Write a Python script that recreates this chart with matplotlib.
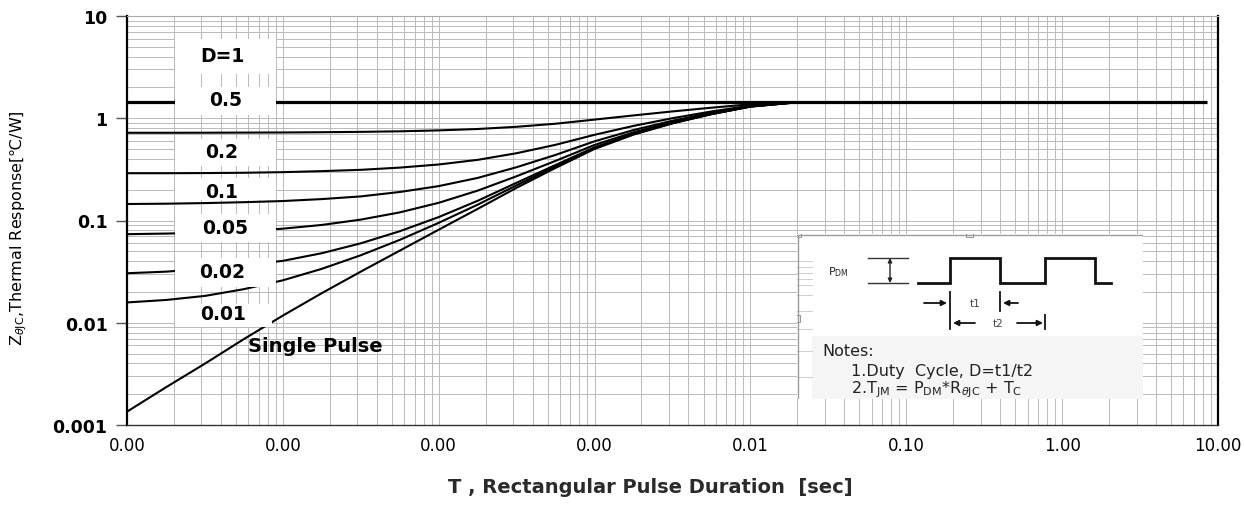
import matplotlib
matplotlib.use("Agg")
import matplotlib.pyplot as plt
from matplotlib.ticker import LogLocator, FixedLocator, FixedFormatter, NullFormatter
from matplotlib.patches import Rectangle

# pulse duration [s] at which the curves were read
t_sec = [1e-6, 1.78e-6, 3.16e-6, 5.62e-6, 1e-5, 1.78e-5, 3.16e-5, 5.62e-5,
         1e-4, 1.78e-4, 3.16e-4, 5.62e-4, 1e-3, 1.78e-3, 3.16e-3, 5.62e-3,
         1e-2, 1.78e-2, 3.16e-2, 8.5]

# transient thermal impedance Z_thJC [C/W] for each duty cycle
z_d1 = [1.44] * 20
z_d05 = [0.721, 0.721, 0.722, 0.724, 0.726, 0.730, 0.736, 0.745, 0.761, 0.785,
         0.825, 0.884, 0.970, 1.066, 1.166, 1.268, 1.37, 1.427, 1.44, 1.44]
z_d02 = [0.290, 0.290, 0.291, 0.293, 0.297, 0.304, 0.313, 0.329, 0.353, 0.392,
         0.455, 0.550, 0.689, 0.842, 1.001, 1.165, 1.33, 1.418, 1.44, 1.44]
z_d01 = [0.145, 0.146, 0.148, 0.151, 0.155, 0.162, 0.172, 0.190, 0.217, 0.261,
         0.332, 0.438, 0.595, 0.767, 0.946, 1.13, 1.32, 1.416, 1.44, 1.44]
z_d005 = [0.0735, 0.0745, 0.0758, 0.0785, 0.0832, 0.0905, 0.102, 0.120, 0.149, 0.196,
          0.271, 0.383, 0.548, 0.729, 0.918, 1.113, 1.31, 1.41, 1.44, 1.44]
z_d002 = [0.0305, 0.0316, 0.0337, 0.0366, 0.0403, 0.0479, 0.0598, 0.0785, 0.108, 0.156,
          0.234, 0.349, 0.520, 0.707, 0.90, 1.10, 1.30, 1.41, 1.44, 1.44]
z_d001 = [0.0158, 0.0167, 0.0183, 0.0213, 0.0260, 0.0337, 0.0457, 0.0646, 0.0949, 0.143,
          0.221, 0.338, 0.510, 0.700, 0.896, 1.10, 1.30, 1.41, 1.44, 1.44]
z_single = [0.00135, 0.00234, 0.00398, 0.00692, 0.01175, 0.0195, 0.0316, 0.0507, 0.0813,
            0.130, 0.209, 0.327, 0.501, 0.692, 0.891, 1.096, 1.303, 1.413, 1.439, 1.44]

curves = [z_d1, z_d05, z_d02, z_d01, z_d005, z_d002, z_d001, z_single]
curve_labels = ["D=1", "0.5", "0.2", "0.1", "0.05", "0.02", "0.01"]

x_ticks = [1e-6, 1e-5, 1e-4, 1e-3, 1e-2, 1e-1, 1, 10]
x_tick_labels = ["0.00", "0.00", "0.00", "0.00", "0.01", "0.10", "1.00", "10.00"]
y_ticks = [0.001, 0.01, 0.1, 1, 10]
y_tick_labels = ["0.001", "0.01", "0.1", "1", "10"]

W, H = 1245, 510
fig = plt.figure(figsize=(W / 100, H / 100), dpi=100)
ax = fig.add_axes([127 / W, 84 / H, 1091 / W, 409 / H])

ax.set_xscale("log")
ax.set_yscale("log")
ax.set_xlim(1e-6, 10)
ax.set_ylim(0.001, 10)

for i, z in enumerate(curves):
    ax.plot(t_sec, z, color="black", lw=2.3 if i == 0 else 1.5, zorder=2,
            solid_capstyle="butt", solid_joinstyle="round")

# log grid, major and minor lines in the same grey
ax.xaxis.set_major_locator(FixedLocator(x_ticks))
ax.xaxis.set_major_formatter(FixedFormatter(x_tick_labels))
ax.yaxis.set_major_locator(FixedLocator(y_ticks))
ax.yaxis.set_major_formatter(FixedFormatter(y_tick_labels))
ax.xaxis.set_minor_locator(LogLocator(base=10, subs=range(2, 10), numticks=20))
ax.yaxis.set_minor_locator(LogLocator(base=10, subs=range(2, 10), numticks=20))
ax.xaxis.set_minor_formatter(NullFormatter())
ax.yaxis.set_minor_formatter(NullFormatter())
ax.grid(which="both", color="#b6b6b6", lw=0.65, zorder=0)
ax.set_axisbelow(True)

ax.tick_params(axis="x", which="both", length=0, pad=8)
ax.tick_params(axis="y", which="major", length=8, width=1, color="#555555", pad=6)
ax.tick_params(axis="y", which="minor", length=0)
for lab in ax.get_xticklabels():
    lab.set_fontfamily("DejaVu Sans")
    lab.set_fontsize(12)
for lab in ax.get_yticklabels():
    lab.set_fontfamily("DejaVu Sans")
    lab.set_fontweight("bold")
    lab.set_fontsize(12.5)

ax.spines["left"].set_linewidth(1.6)
ax.spines["right"].set_linewidth(1.6)
ax.spines["bottom"].set_linewidth(1.0)
ax.spines["bottom"].set_color("#333333")
ax.spines["top"].set_linewidth(0.8)
ax.spines["top"].set_color("#a8a8a8")


def axfrac(px, py):
    return (px - 127) / 1091, (426 - py) / 409


# white label boxes on the left side of the curves
boxes = [(175, 40, 276, 75), (175, 88, 276, 116), (175, 140, 276, 167),
         (175, 179, 276, 201), (175, 215, 276, 243), (175, 259, 276, 288),
         (175, 305, 272, 328)]
label_pos = [(222, 57), (226, 100), (222, 153), (222, 192), (225, 228),
             (222, 273), (223, 315)]
for (x0, y0, x1, y1), (tx, ty), text in zip(boxes, label_pos, curve_labels):
    fx0, fy1 = axfrac(x0, y0)
    fx1, fy0 = axfrac(x1, y1)
    ax.add_patch(Rectangle((fx0, fy0), fx1 - fx0, fy1 - fy0, transform=ax.transAxes,
                           facecolor="white", edgecolor="none", zorder=3))
    fx, fy = axfrac(tx, ty)
    ax.text(fx, fy, text, transform=ax.transAxes, ha="center", va="center",
            fontsize=13.5, fontweight="bold", family="DejaVu Sans", zorder=4)

fx, fy = axfrac(248, 347)
ax.text(fx, fy, "Single Pulse", transform=ax.transAxes, ha="left", va="center",
        fontsize=14, fontweight="bold", family="DejaVu Sans", zorder=4)

# axis titles
fig.text(19 / W, 1 - 228 / H, r"Z$_{\theta\mathregular{JC}}$,Thermal Response[℃/W]",
         rotation=90, ha="center", va="center", fontsize=11.5,
         family=["Liberation Sans Narrow", "DejaVu Sans"])
fig.text(650 / W, 1 - 488 / H, "T , Rectangular Pulse Duration  [sec]",
         ha="center", va="center", fontsize=14, fontweight="bold", family="DejaVu Sans",
         color="#2a2a2a")

# inset with pulse diagram and notes
ins = fig.add_axes([797 / W, 110 / H, 346 / W, 165 / H], zorder=6)
ins.set_xlim(797, 1143)
ins.set_ylim(400, 235)
ins.axis("off")
ins.add_patch(Rectangle((797, 235), 346, 165, facecolor="white", edgecolor="none"))
ins.add_patch(Rectangle((812, 337), 331, 63, facecolor="#f5f5f5", edgecolor="none"))
for gy in [262, 268, 274, 280, 286, 296, 312, 330, 352, 378]:
    ins.plot([797, 812], [gy, gy], color="#cfcfcf", lw=0.7)
ins.plot([797, 1143], [236, 236], color="#9a9a9a", lw=1.0)
ins.plot([798, 798], [236, 400], color="#9a9a9a", lw=1.0)
for hx in [797, 969]:
    ins.add_patch(Rectangle((hx - 3, 233), 7, 5, facecolor="white", edgecolor="#9a9a9a", lw=0.8))
ins.add_patch(Rectangle((795, 316), 5, 7, facecolor="white", edgecolor="#9a9a9a", lw=0.8))

ins.text(828, 272, r"P$_{\mathregular{DM}}$", fontsize=8, va="center", ha="left",
         family="DejaVu Sans", color="#222222")
ins.plot([868, 908], [259, 259], color="#333333", lw=1.0)
ins.plot([868, 908], [284, 284], color="#333333", lw=1.0)
ins.annotate("", xy=(890, 284), xytext=(890, 259),
             arrowprops=dict(arrowstyle="<|-|>", color="#222222", lw=1.0,
                             mutation_scale=6, shrinkA=0, shrinkB=0))

wave_x = [918, 950, 950, 1000, 1000, 1045, 1045, 1095, 1095, 1111]
wave_y = [284, 284, 259, 259, 284, 284, 259, 259, 284, 284]
ins.plot(wave_x, wave_y, color="#111111", lw=2.0, solid_joinstyle="miter")

ins.plot([950, 950], [293, 330], color="#111111", lw=1.3)
ins.plot([1000, 1000], [293, 312], color="#111111", lw=1.3)
ins.plot([1045, 1045], [316, 330], color="#111111", lw=1.3)
arrow = dict(arrowstyle="-|>", color="#111111", lw=1.3, mutation_scale=8,
             shrinkA=0, shrinkB=0)
ins.annotate("", xy=(947, 304), xytext=(924, 304), arrowprops=arrow)
ins.annotate("", xy=(1003, 304), xytext=(1018, 304), arrowprops=arrow)
ins.annotate("", xy=(953, 324), xytext=(975, 324), arrowprops=arrow)
ins.annotate("", xy=(1043, 324), xytext=(1017, 324), arrowprops=arrow)
ins.text(975, 304, "t1", fontsize=7.5, ha="center", va="center", color="#444444",
         family="DejaVu Sans")
ins.text(998, 324, "t2", fontsize=7.5, ha="center", va="center", color="#444444",
         family="DejaVu Sans")

ins.text(822, 352, "Notes:", fontsize=11.5, ha="left", va="center", family="DejaVu Sans",
         color="#222222")
ins.text(851, 372, "1.Duty  Cycle, D=t1/t2", fontsize=11.5, ha="left", va="center",
         family="DejaVu Sans", color="#222222")
ins.text(851, 390, r"2.T$_{\mathregular{JM}}$ = P$_{\mathregular{DM}}$*R$_{\theta\mathregular{JC}}$ + T$_{\mathregular{C}}$",
         fontsize=11.5, ha="left", va="center", family="DejaVu Sans", color="#222222")

fig.savefig("out.png", dpi=100)
